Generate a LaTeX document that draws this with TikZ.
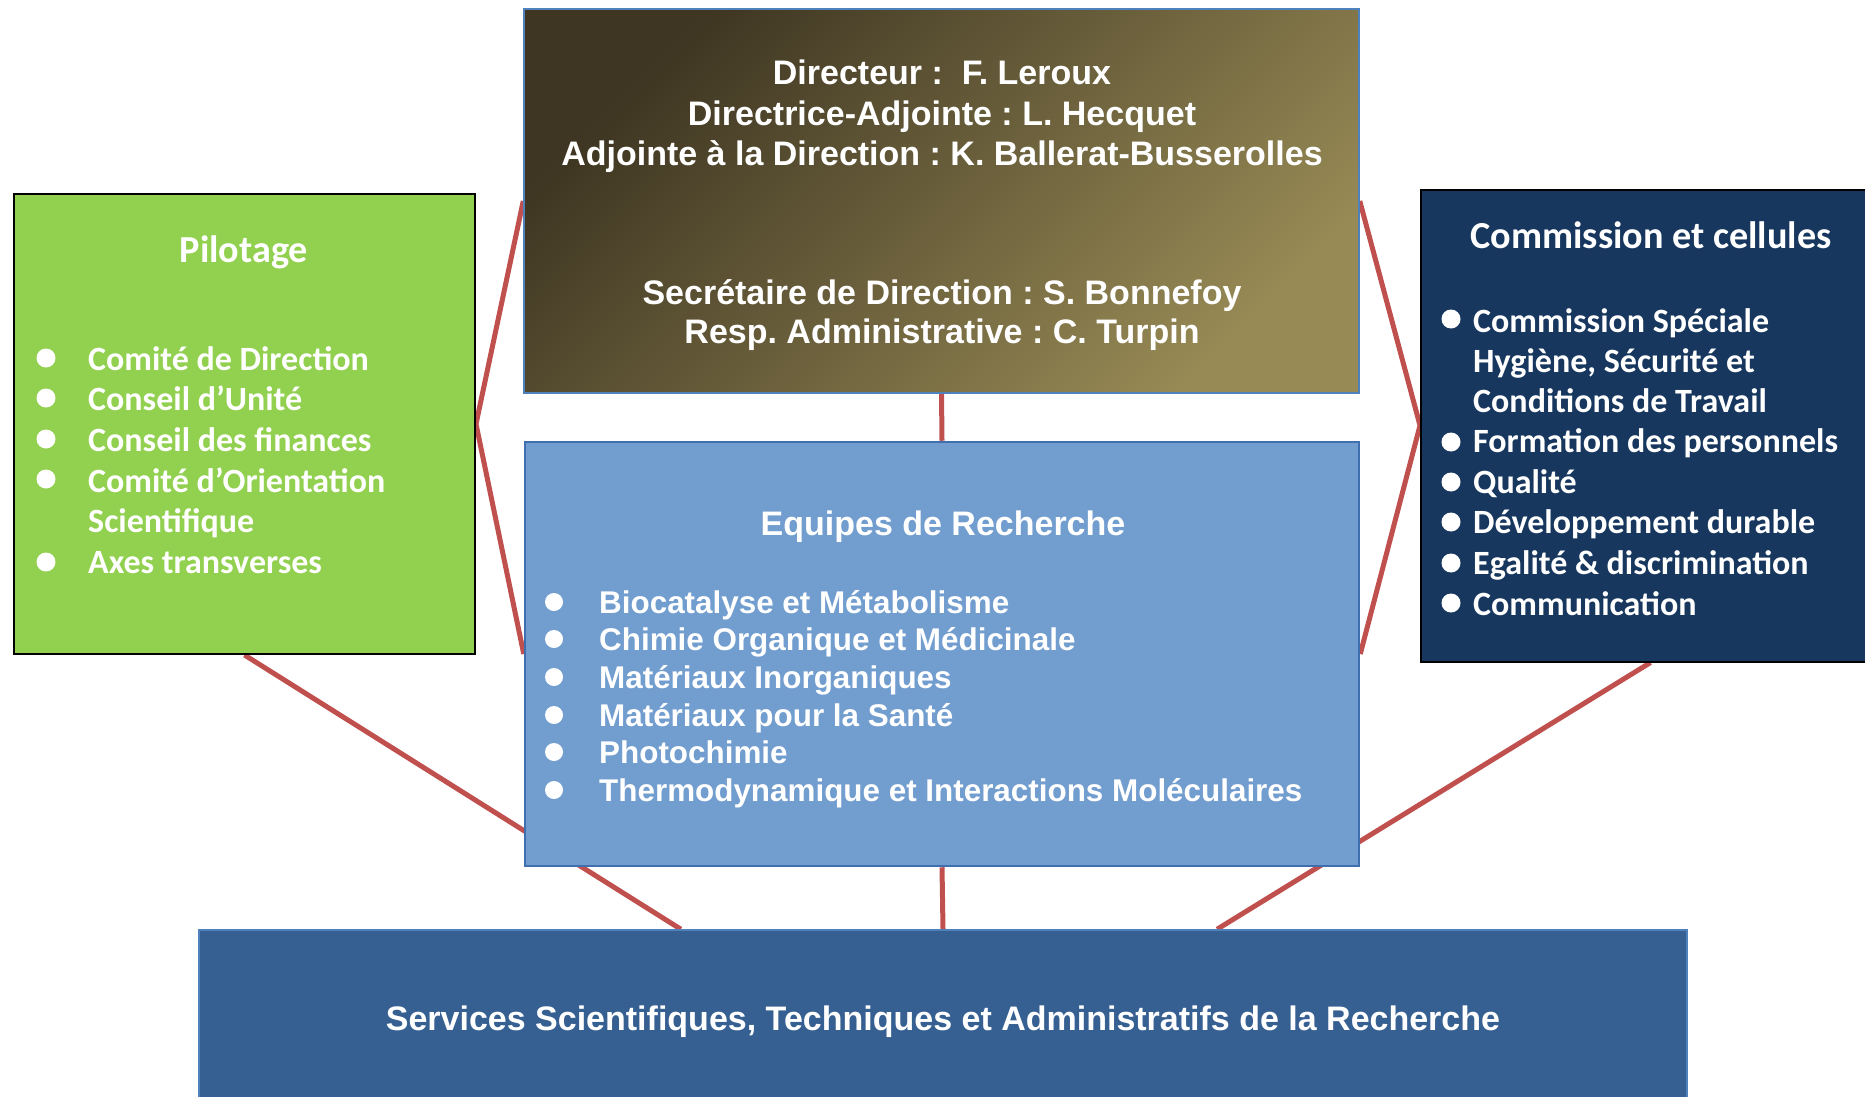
\documentclass[tikz,border=0pt]{standalone}
\usepackage{fontspec}
\setmainfont{Liberation Sans}
\newfontfamily\calib{Carlito}
\usetikzlibrary{backgrounds,calc}
\frenchspacing

\definecolor{linkred}{HTML}{C0504D}
\definecolor{pilgreen}{HTML}{92D050}
\definecolor{comblue}{HTML}{17375E}
\definecolor{equblue}{HTML}{729DCF}
\definecolor{equedge}{HTML}{3F6FAF}
\definecolor{servblue}{HTML}{376092}
\definecolor{servedge}{HTML}{4F81BD}
\definecolor{dirdark}{HTML}{3E3522}
\definecolor{dirlight}{HTML}{978A55}

\tikzset{
  unitbox/.style={rectangle, inner sep=0pt},
  link/.style={draw=linkred, line width=5pt},
  arialtxt/.style={text=white, inner sep=0pt, font=\bfseries\fontsize{34}{40}\selectfont},
  arialitem/.style={text=white, inner sep=0pt, font=\bfseries\fontsize{31.4}{37}\selectfont},
  caltitle/.style={text=white, inner sep=0pt, font=\calib\bfseries\fontsize{38.2}{46}\selectfont},
  calitem/.style={text=white, inner sep=0pt, font=\calib\bfseries\fontsize{34}{40}\selectfont},
}

\begin{document}
\begin{tikzpicture}[x=1pt,y=-1pt]
\useasboundingbox (0,0) rectangle (1865,1097);

% boxes
\node[unitbox, draw=servedge, line width=1.5pt, shade, top color=dirdark, bottom color=dirlight,
  shading angle=45, minimum width=835, minimum height=384] (dir) at (941.5,201) {};
\node[unitbox, draw=black, line width=2pt, fill=pilgreen, minimum width=461, minimum height=460] (pil) at (244.5,424) {};
\node[unitbox, draw=black, line width=2pt, fill=comblue, minimum width=459, minimum height=472] (com) at (1650.5,425.5) {};
\node[unitbox, draw=equedge, line width=2.5pt, fill=equblue, minimum width=834, minimum height=424] (equ) at (942,654) {};
\node[unitbox, draw=servedge, line width=1.5pt, fill=servblue, minimum width=1488, minimum height=176] (serv) at (943,1018) {};
\coordinate (servL) at ($(serv.north west)!0.324!(serv.north east)$);
\coordinate (servR) at ($(serv.north west)!0.684!(serv.north east)$);

% direction
\foreach \y/\t [count=\i] in {85/{Directeur :\ \ F. Leroux}, 125/Directrice-Adjointe : L. Hecquet,
    165/Adjointe à la Direction : K. Ballerat-Busserolles, 304/Secrétaire de Direction : S. Bonnefoy,
    343/Resp. Administrative : C. Turpin}
  \node[arialtxt, anchor=base] (dir-\i) at (942,\y) {\t};

% pilotage
\node[caltitle, anchor=base] (pil-title) at (244,262) {Pilotage};
\foreach \y/\t [count=\i] in {370/Comité de Direction, 410/Conseil d’Unité, 451/Conseil des finances,
    492/Comité d’Orientation, 532/Scientifique, 573/Axes transverses}
  \node[calitem, anchor=base west] (pil-\i) at (88,\y) {\t};
\foreach \y in {358,398,439,479,562}
  \fill[white] (46,\y) circle[radius=9.5pt];

% commission
\node[caltitle, anchor=base] (com-title) at (1651,248) {Commission et cellules};
\foreach \y/\t [count=\i] in {332/Commission Spéciale, 372/{Hygiène, Sécurité et}, 412/Conditions de Travail,
    452/Formation des personnels, 493/Qualité, 533/Développement durable,
    574/Egalité \& discrimination, 615/Communication}
  \node[calitem, anchor=base west] (com-\i) at (1473,\y) {\t};
\foreach \y in {319,442,482,522,563,603}
  \fill[white] (1451,\y) circle[radius=9.5pt];

% equipes
\node[arialtxt, anchor=base] (equ-title) at (943,535) {Equipes de Recherche};
\foreach \y/\t [count=\i] in {613/Biocatalyse et Métabolisme, 650/Chimie Organique et Médicinale,
    688/Matériaux Inorganiques, 726/Matériaux pour la Santé, 763/Photochimie,
    801/Thermodynamique et Interactions Moléculaires}
  \node[arialitem, anchor=base west] (equ-\i) at (599,\y) {\t};
\foreach \y in {602,639,677,715,752,790}
  \fill[white] (554,\y) circle[radius=9pt];

% services
\node[arialtxt, anchor=base] (serv-title) at (943,1030) {Services Scientifiques, Techniques et Administratifs de la Recherche};

% links
\begin{scope}[on background layer]
  \draw[link] (dir.south) -- (equ.north);
  \draw[link] (equ.south) -- (serv.north);
  \draw[link] (dir.west) -- (pil.east) -- (equ.west);
  \draw[link] (dir.east) -- (com.west) -- (equ.east);
  \draw[link] (pil.south) -- (servL);
  \draw[link] (com.south) -- (servR);
\end{scope}
\end{tikzpicture}
\end{document}
